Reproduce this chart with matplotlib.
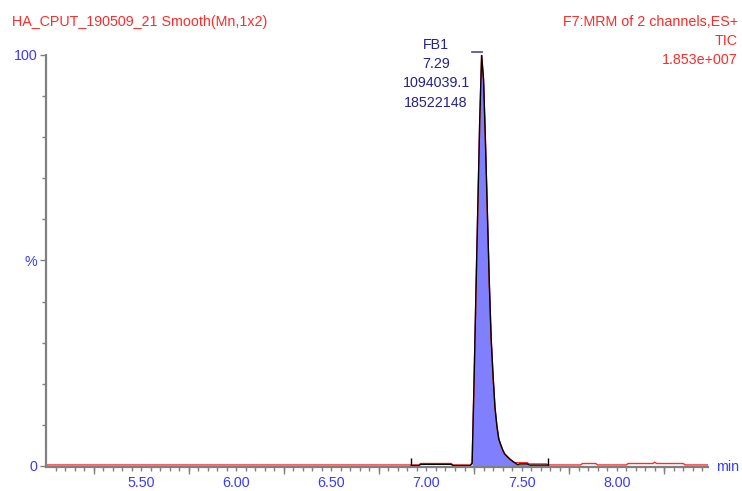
import numpy as np
import matplotlib
matplotlib.use('Agg')
import matplotlib.pyplot as plt

plt.rcParams['font.family'] = ['Liberation Sans', 'DejaVu Sans']

# TIC trace (time in min, % of max)
trace_t = [5.00, 6.96, 6.97, 7.13, 7.14, 7.23, 7.24, 7.25, 7.26, 7.27, 7.28, 7.29,
           7.30, 7.31, 7.32, 7.33, 7.34, 7.35, 7.36, 7.37, 7.38, 7.39, 7.40, 7.41,
           7.42, 7.44, 7.46, 7.47, 7.53, 7.54, 7.63, 7.64, 7.81, 7.82, 7.89, 7.90,
           8.05, 8.06, 8.19, 8.20, 8.21, 8.35, 8.36, 8.48]
trace_v = [0.25, 0.25, 0.6, 0.6, 0.25, 0.25, 0.8, 20, 42, 63, 84, 100,
           94, 79, 62, 45, 31, 22, 14.3, 9.8, 6.6, 5.2, 4.0, 3.0,
           2.5, 1.6, 0.9, 0.8, 0.8, 0.5, 0.5, 0.25, 0.25, 0.6, 0.6, 0.25,
           0.25, 0.6, 0.6, 0.9, 0.6, 0.6, 0.25, 0.25]

# integrated peak (black trace) and its limits
int_t = [6.92, 6.96, 6.97, 7.13, 7.14, 7.23, 7.24, 7.25, 7.26, 7.27, 7.28, 7.29,
         7.30, 7.31, 7.32, 7.33, 7.34, 7.35, 7.36, 7.37, 7.38, 7.39, 7.40, 7.41,
         7.42, 7.44, 7.46, 7.48, 7.49, 7.53, 7.54, 7.64]
int_v = [0.1, 0.1, 0.4, 0.4, 0.1, 0.1, 0.6, 20, 42, 63, 84, 100,
         94, 79, 62, 45, 31, 22, 14.3, 9.8, 6.6, 5.2, 4.0, 3.0,
         2.5, 1.6, 0.9, 0.3, 0.5, 0.5, 0.2, 0.2]
int_start, int_end = 6.92, 7.64
fill_start, fill_end = 7.24, 7.53
apex_t = 7.29

peak_labels = ['FB1', '7.29', '1094039.1', '18522148']
x_labels = [5.50, 6.00, 6.50, 7.00, 7.50, 8.00]

W, H = 742, 491
fig = plt.figure(figsize=(W / 100, H / 100), dpi=100)
ax = fig.add_axes([46 / W, 24 / H, 662 / W, 412 / H])

blue = '#3a3aff'
red = '#ff2a2a'
navy = '#23238a'
gray = '#808080'

t = np.array(int_t)
v = np.array(int_v)
m = (t >= fill_start) & (t <= fill_end)
ax.fill_between(t[m], 0, v[m], color='#8080ff', lw=0)
ax.plot(trace_t, trace_v, color=red, lw=1.0)
ax.plot(int_t, int_v, color='black', lw=1.0)
ax.vlines([int_start, int_end], -0.2, 1.9, color='black', lw=1.0)
ax.plot([fill_start, apex_t], [100.7, 100.7], color='#4a4aa0', lw=1.2, clip_on=False)

ax.set_xlim(5.0, 8.48)
ax.set_ylim(-0.25, 100)

for s in ['top', 'right']:
    ax.spines[s].set_visible(False)
for s in ['left', 'bottom']:
    ax.spines[s].set_color(gray)
    ax.spines[s].set_linewidth(1.6)

ax.set_xticks(x_labels)
ax.set_xticklabels(['%.2f' % x for x in x_labels])
ax.set_xticks(np.arange(5.05, 8.48, 0.05), minor=True)
ax.tick_params(axis='x', which='both', length=2.6, width=1.0, color=gray,
               labelcolor=blue, labelsize=10.3, pad=4)

sec = ax.secondary_xaxis('bottom')
sec.set_xticks(np.arange(5.25, 8.48, 0.5))
sec.tick_params(length=5, width=1.0, color=gray, labelbottom=False)
sec.spines['bottom'].set_visible(False)

ax.set_yticks([0, 50, 100])
ax.set_yticklabels(['0', '%', '100'])
ax.set_yticks(np.arange(10, 100, 10), minor=True)
ax.tick_params(axis='y', which='major', length=4.3, width=1.0, color=gray,
               labelcolor=blue, labelsize=10.3, pad=2)
ax.tick_params(axis='y', which='minor', length=2.8, width=1.0, color=gray)

fs = 10.3
fig.text(12 / W, 1 - 22 / H, 'HA_CPUT_190509_21 Smooth(Mn,1x2)', color=red,
         fontsize=fs, ha='left', va='center')
for i, s in enumerate(['F7:MRM of 2 channels,ES+', 'TIC', '1.853e+007']):
    fig.text(738 / W, 1 - (22 + 19 * i) / H, s, color=red, fontsize=fs,
             ha='right', va='center')
for i, s in enumerate(peak_labels):
    fig.text(436 / W, 1 - (45 + 19.2 * i) / H, s, color=navy, fontsize=fs,
             ha='center', va='center')
fig.text(716 / W, 1 - 467 / H, 'min', color=blue, fontsize=fs, ha='left', va='center')

fig.savefig('out.png', dpi=100)
